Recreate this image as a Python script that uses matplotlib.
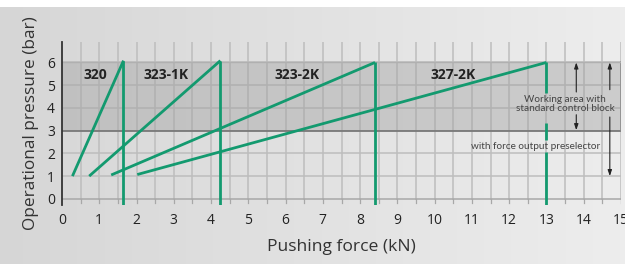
import numpy as np
import matplotlib
matplotlib.use("Agg")
import matplotlib.pyplot as plt

plt.rcParams['font.family'] = ['Open Sans', 'DejaVu Sans']

# cylinder curves: start (force, pressure) -> end (force, pressure)
models = ["320", "323-1K", "323-2K", "327-2K"]
start_force = [0.28, 0.73, 1.32, 2.02]
start_press = [1.0, 1.0, 1.05, 1.07]
end_force = [1.65, 4.25, 8.4, 13.0]
end_press = [6.08, 6.08, 6.0, 6.0]
label_x = [0.9, 2.8, 6.3, 10.5]
label_y = [5.45, 5.45, 5.45, 5.45]

xticks = list(range(0, 16))
yticks = list(range(0, 7))
band_lo, band_hi = 3, 6

GREEN = "#139a6f"

fig = plt.figure(figsize=(6.25, 2.64), dpi=100)
bg = fig.add_axes([0, 0, 1, 0.973])
grad = np.linspace(0.84, 0.93, 256)[None, :]
grad = np.repeat(grad, 2, axis=0)
bg.imshow(np.dstack([grad] * 3), aspect="auto", extent=[0, 1, 0, 1])
bg.set_axis_off()

ax = fig.add_axes([0.0992, 0.2235, 0.8944, 0.6175])
ax.patch.set_alpha(0)
ax.set_xlim(0, 15)
ax.set_ylim(-0.27, 6.9)

# grid
for x in np.arange(0.5, 15.01, 0.5):
    ax.plot([x, x], [0, 6.9], color="#bdbdbd", lw=1.1, zorder=1)
for y in yticks[1:]:
    ax.plot([0, 15], [y, y], color="#bdbdbd", lw=1.1, zorder=1)
ax.plot([0, 15], [0, 0], color="#a8a8a8", lw=1.1, zorder=1)
for x in np.arange(0.5, 15.01, 0.5):
    ax.plot([x, x], [0, -0.18], color="#a8a8a8", lw=0.9, zorder=1)

# working band
ax.fill_between([0, 15], band_lo, band_hi, color="#a0a0a0", alpha=0.42, lw=0, zorder=1.5)
ax.plot([0, 15], [band_lo, band_lo], color="#6e6e6e", lw=1.1, zorder=2)
ax.plot([15, 15], [band_lo, band_hi], color="#8a8a8a", lw=1.1, zorder=2)
ax.plot([0, 15], [band_hi, band_hi], color="#b0b0b0", lw=1.0, zorder=2)

for name, x0, y0, x1, y1, lx, ly in zip(models, start_force, start_press,
                                         end_force, end_press, label_x, label_y):
    ax.plot([x0, x1], [y0, y1], color=GREEN, lw=2.0, zorder=4, solid_capstyle="butt")
    if name == "327-2K":
        segs = [(y1, 4.65), (3.35, 2.6), (2.05, -0.27)]
    else:
        segs = [(y1, -0.27)]
    for a, b in segs:
        ax.plot([x1, x1], [a, b], color=GREEN, lw=2.0, zorder=4, solid_capstyle="butt")
    ax.text(lx, ly, name, ha="center", va="center", fontsize=10, fontweight="bold",
            color="#222222", zorder=5)

# arrows
akw = dict(arrowstyle="-|>,head_length=0.35,head_width=0.12", color="#222222", lw=0.8,
           shrinkA=0, shrinkB=0)
ax.annotate("", xy=(13.8, 6.0), xytext=(13.8, 4.7), arrowprops=akw, zorder=5)
ax.annotate("", xy=(13.8, 3.02), xytext=(13.8, 3.7), arrowprops=akw, zorder=5)
ax.annotate("", xy=(14.7, 6.0), xytext=(14.7, 4.8), arrowprops=akw, zorder=5)
ax.annotate("", xy=(14.7, 1.0), xytext=(14.7, 3.6), arrowprops=akw, zorder=5)

ax.text(13.5, 4.17, "Working area with\nstandard control block", ha="center", va="center",
        fontsize=7.2, color="#444444", linespacing=1.1, family="Lato", zorder=6)
ax.text(12.7, 2.3, "with force output preselector", ha="center", va="center",
        fontsize=7.2, color="#444444", family="Lato", zorder=6)

ax.set_xticks(xticks)
ax.set_yticks(yticks)
ax.tick_params(axis="both", length=0, labelsize=10, colors="#222222")
ax.tick_params(axis="x", pad=6)
ax.tick_params(axis="y", pad=5)
for s in ["top", "right", "bottom"]:
    ax.spines[s].set_visible(False)
ax.spines["left"].set_color("#333333")
ax.spines["left"].set_linewidth(1.3)
ax.set_xlabel("Pushing force (kN)", fontsize=12.6, color="#333333", labelpad=8)
ax.set_ylabel("Operational pressure (bar)", fontsize=12.4, color="#333333", labelpad=6)

fig.savefig("out.png", dpi=100)
